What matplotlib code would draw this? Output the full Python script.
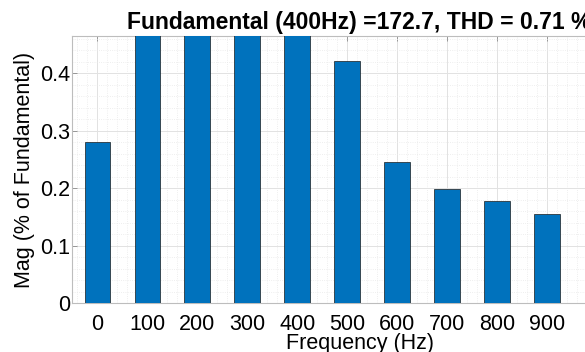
import numpy as np
import matplotlib
matplotlib.use("Agg")
import matplotlib.pyplot as plt
from matplotlib.ticker import MultipleLocator

plt.rcParams['font.family'] = ['Liberation Sans', 'DejaVu Sans']

# harmonic spectrum (% of fundamental); 100-400 Hz run off the top of the axes
freqs = [0, 100, 200, 300, 400, 500, 600, 700, 800, 900]
mag = [0.281, 0.62, 0.58, 0.53, 100.0, 0.422, 0.245, 0.198, 0.178, 0.156]
xtick_labels = ['0', '100', '200', '300', '400', '500', '600', '700', '800', '900']
yticks = [0, 0.1, 0.2, 0.3, 0.4]
ytick_labels = ['0', '0.1', '0.2', '0.3', '0.4']
title = 'Fundamental (400Hz) =172.7, THD = 0.71 %'

bar_color = '#0072BD'
spine_color = '#bdbdbd'

fig = plt.figure(figsize=(5.85, 3.52), dpi=100)
# axes runs past the right edge of the picture, like the cropped original
ax = fig.add_axes([0.1236, 0.1386, 0.9824, 0.759])

ax.bar(freqs, mag, width=51, color=bar_color, edgecolor='#1a1a1a',
       linewidth=0.5, zorder=3)

ax.set_xlim(-50, 1100)
ax.set_ylim(0, 0.465)
ax.set_xticks(freqs)
ax.set_xticklabels(xtick_labels)
ax.set_yticks(yticks)
ax.set_yticklabels(ytick_labels)
ax.xaxis.set_minor_locator(MultipleLocator(20))
ax.yaxis.set_minor_locator(MultipleLocator(0.02))

ax.grid(which='major', color='#e2e2e2', linewidth=0.7, zorder=0)
ax.grid(which='minor', color='#e9e9e9', linewidth=0.6, linestyle=':', zorder=0)
ax.set_axisbelow(True)

ax.tick_params(which='major', direction='in', length=3.6, width=0.6,
               color='#8a8a8a', labelsize=15.5, top=True, right=True)
ax.tick_params(axis='x', which='major', pad=7.5)
ax.tick_params(axis='y', which='major', pad=1.5)
ax.tick_params(which='minor', length=0)
for s in ax.spines.values():
    s.set_color(spine_color)
    s.set_linewidth(0.8)

ax.set_xlabel('Frequency (Hz)', fontsize=15.5, labelpad=-1)
ax.set_ylabel('Mag (% of Fundamental)', fontsize=15.5, labelpad=4)
ax.set_title(title, fontsize=16.5, fontweight='bold', pad=5)

fig.savefig('out.png', dpi=100)
